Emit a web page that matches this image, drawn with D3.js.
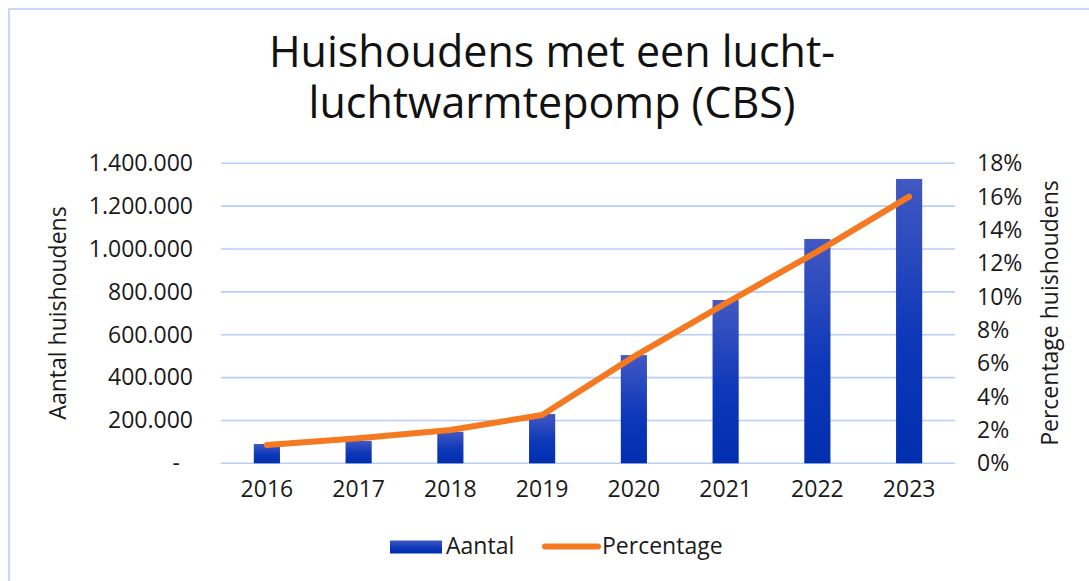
<!DOCTYPE html>
<html><head><meta charset="utf-8">
<script src="https://cdn.jsdelivr.net/npm/d3@7"></script>
<style>
html,body{margin:0;padding:0;background:#fff;}
svg{display:block;font-family:"Open Sans","Noto Sans",sans-serif;}
</style></head>
<body>
<svg id="chart" width="1089" height="581"></svg>
<script>
const years = ["2016","2017","2018","2019","2020","2021","2022","2023"];
const aantal = [90000,105000,147000,230000,505000,762000,1047000,1327000];
const percentage = [1.1,1.5,2.0,2.9,6.4,9.6,12.7,16.0];
const leftTicks = [0,200000,400000,600000,800000,1000000,1200000,1400000];
const rightTicks = [0,2,4,6,8,10,12,14,16,18];
const titleLines = ["Huishoudens met een lucht-","luchtwarmtepomp (CBS)"];

const FONT = "'Open Sans','Noto Sans',sans-serif";
const svg = d3.select("#chart");
const gridColor = "#b8cdf8";
const textColor = "#1a1a1a";

// border (top and left visible)
svg.append("path").attr("d","M9,581 V9 H1089").attr("fill","none")
  .attr("stroke",gridColor).attr("stroke-width",1.6);

const x = d3.scaleBand().domain(years).range([221,955]).paddingInner(0.715).paddingOuter(0.3575);
const yL = d3.scaleLinear().domain([0,1400000]).range([463.3,163.3]);
const yR = d3.scaleLinear().domain([0,18]).range([463.3,163.3]);

// title
svg.append("g").selectAll("text").data(titleLines).join("text")
  .attr("x",552).attr("y",(d,i)=>67+i*51)
  .attr("text-anchor","middle").attr("font-size",43).attr("fill","#111")
  .text(d=>d);

// gridlines
svg.append("g").selectAll("line").data(leftTicks).join("line")
  .attr("x1",221).attr("x2",955)
  .attr("y1",d=>yL(d)).attr("y2",d=>yL(d))
  .attr("stroke",gridColor).attr("stroke-width",1.6);

// left axis
const fmt = d => d===0 ? "-" : d3.format(",")(d).replace(/,/g,".");
const gL = svg.append("g").attr("transform","translate(193,0)")
  .call(d3.axisLeft(yL).tickValues(leftTicks).tickSize(0).tickPadding(0).tickFormat(fmt));
gL.select(".domain").remove();
gL.selectAll("text").attr("font-size",23).attr("fill",textColor)
  .attr("font-family",FONT)
  .attr("dx",d=>d===0?-13:0);

// right axis
const gR = svg.append("g").attr("transform","translate(977,0)")
  .call(d3.axisRight(yR).tickValues(rightTicks).tickSize(0).tickPadding(0).tickFormat(d=>d+"%"));
gR.select(".domain").remove();
gR.selectAll("text").attr("font-size",23).attr("fill",textColor)
  .attr("font-family",FONT);

// x axis
const gX = svg.append("g").attr("transform","translate(0,481)")
  .call(d3.axisBottom(x).tickSize(0).tickPadding(0));
gX.select(".domain").remove();
gX.selectAll("text").attr("font-size",23).attr("fill",textColor).attr("dy","0.71em")
  .attr("font-family",FONT);

// axis titles
svg.append("text").attr("transform","translate(66,313) rotate(-90)")
  .attr("text-anchor","middle").attr("font-size",23).attr("fill",textColor)
  .text("Aantal huishoudens");
svg.append("text").attr("transform","translate(1058,313) rotate(-90)")
  .attr("text-anchor","middle").attr("font-size",23).attr("fill",textColor)
  .text("Percentage huishoudens");

// gradient
const defs = svg.append("defs");
const grad = defs.append("linearGradient").attr("id","barGrad")
  .attr("x1",0).attr("y1",0).attr("x2",0).attr("y2",1);
grad.append("stop").attr("offset","0%").attr("stop-color","#4258c2");
grad.append("stop").attr("offset","55%").attr("stop-color","#0d38b9");
grad.append("stop").attr("offset","100%").attr("stop-color","#002fae");

// bars
svg.append("g").selectAll("rect").data(years).join("rect")
  .attr("x",d=>x(d)).attr("width",x.bandwidth())
  .attr("y",(d,i)=>yL(aantal[i])).attr("height",(d,i)=>yL(0)-yL(aantal[i]))
  .attr("fill","url(#barGrad)");

// line
const line = d3.line().x((d,i)=>x(years[i])+x.bandwidth()/2).y(d=>yR(d));
svg.append("path").datum(percentage).attr("d",line)
  .attr("fill","none").attr("stroke","#f47920").attr("stroke-width",6)
  .attr("stroke-linecap","round").attr("stroke-linejoin","round");

// legend
const lg = svg.append("g");
lg.append("rect").attr("x",390).attr("y",540.5).attr("width",52).attr("height",13)
  .attr("fill","url(#barGrad)");
lg.append("text").attr("x",446).attr("y",554).attr("font-size",23).attr("fill",textColor).text("Aantal");
lg.append("line").attr("x1",545).attr("x2",598).attr("y1",546.5).attr("y2",546.5)
  .attr("stroke","#f47920").attr("stroke-width",6).attr("stroke-linecap","round");
lg.append("text").attr("x",602).attr("y",554).attr("font-size",23).attr("fill",textColor).text("Percentage");
</script>
</body></html>
